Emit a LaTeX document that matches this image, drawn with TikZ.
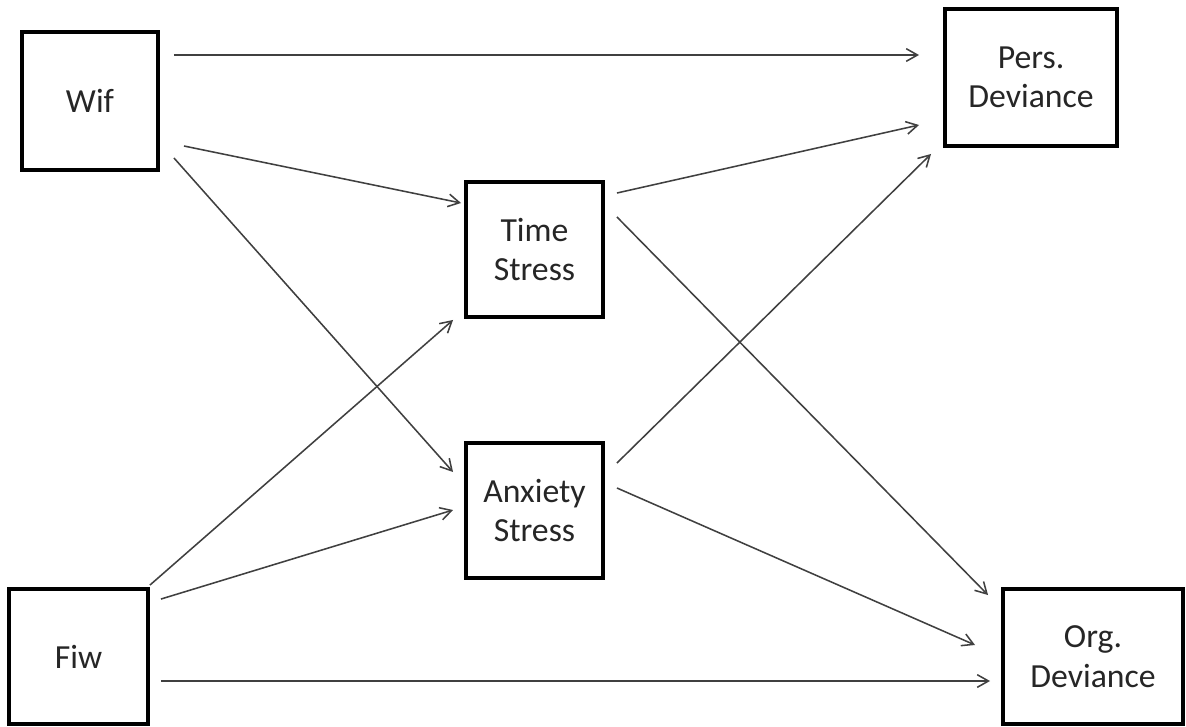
\documentclass[tikz,border=0pt]{standalone}
\usepackage{fontspec}
\setmainfont{Carlito}
\usetikzlibrary{arrows.meta}

\begin{document}
\begin{tikzpicture}[>={Straight Barb[length=8pt,width=9pt]},
        box/.style={draw=black,line width=2.8pt,fill=white,align=center,
                    inner sep=0pt,text=black!85,
                    font=\fontsize{24}{28}\selectfont},
        path/.style={->,draw=black!75,line width=1.1pt}]
                \useasboundingbox (0,0) rectangle (29.65,-18.15);

                % variables
                \node[box,minimum width=3.4cm,minimum height=3.45cm] (wif) at(2.25,-2.525) {Wif};
                \node[box,minimum width=3.475cm,minimum height=3.375cm] (fiw) at(1.9625,-16.4125) {Fiw};
                \node[box,minimum width=3.425cm,minimum height=3.375cm] (time) at(13.3625,-6.2375) {Time\\Stress};
                \node[box,minimum width=3.425cm,minimum height=3.375cm] (anx) at(13.3625,-12.7625) {Anxiety\\Stress};
                \node[box,minimum width=4.3cm,minimum height=3.425cm] (pers) at(25.775,-1.9375) {Pers.\\Deviance};
                \node[box,minimum width=4.5cm,minimum height=3.375cm] (org) at(27.325,-16.4125) {Org.\\Deviance};

                % paths from wif
                \draw[path] ([shift={(0.35,1.15)}]wif.east) -- ([shift={(-0.6,0.5625)}]pers.west);
                \draw[path] ([shift={(0.6,-1.125)}]wif.east) -- ([shift={(-0.075,1.1625)}]time.west);
                \draw[path] ([shift={(0.35,-1.425)}]wif.east) -- ([shift={(-0.275,0.9625)}]anx.west);

                % paths from fiw
                \draw[path] ([shift={(0,0.05)}]fiw.north east) -- ([shift={(-0.275,-0.025)}]time.south west);
                \draw[path] ([shift={(0.275,-0.3)}]fiw.north east) -- ([shift={(-0.275,0.0125)}]anx.west);
                \draw[path] ([shift={(0.275,-0.6125)}]fiw.east) -- ([shift={(-0.275,-0.6125)}]org.west);

                % paths from the stresses
                \draw[path] ([shift={(0.3,1.4125)}]time.east) -- ([shift={(-0.6,-1.1875)}]pers.west);
                \draw[path] ([shift={(0.3,0.8125)}]time.east) -- ([shift={(-0.325,-0.2)}]org.north west);
                \draw[path] ([shift={(0.3,1.1875)}]anx.east) -- ([shift={(-0.3,-0.15)}]pers.south west);
                \draw[path] ([shift={(0.3,0.5625)}]anx.east) -- ([shift={(-0.65,0.2875)}]org.west);
            \end{tikzpicture}
\end{document}
